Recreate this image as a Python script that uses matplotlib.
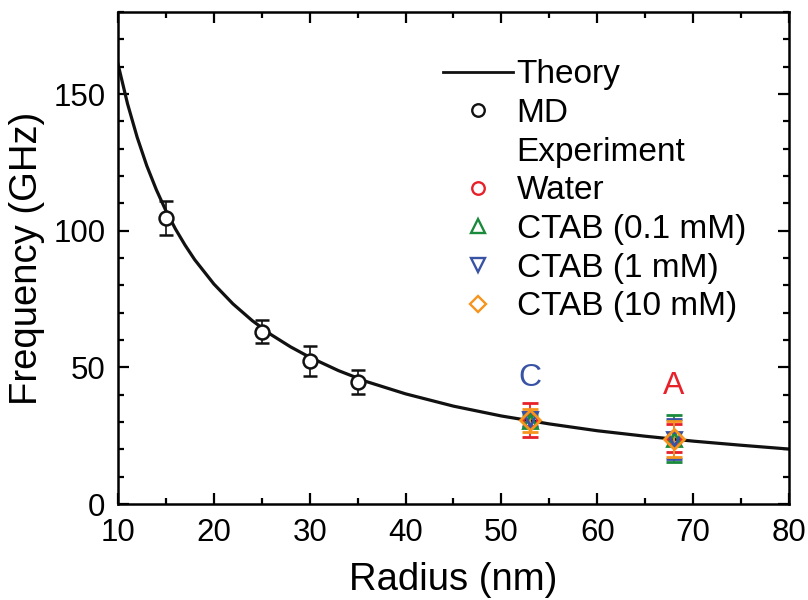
import matplotlib
matplotlib.use("Agg")
import matplotlib.pyplot as plt
from matplotlib.lines import Line2D
from matplotlib.ticker import MultipleLocator

plt.rcParams['font.family'] = ['Liberation Sans', 'DejaVu Sans']

# Theory curve
theory_r = [10, 11, 12, 13, 14, 15, 16, 17, 18, 20, 22, 24, 26, 28, 30,
            33, 36, 40, 45, 50, 55, 60, 65, 70, 75, 80]
theory_f = [161, 146.4, 134.2, 123.8, 115, 107.3, 100.6, 94.7, 89.4, 80.5,
            73.2, 67.1, 61.9, 57.5, 53.7, 48.8, 44.7, 40.3, 35.8, 32.2,
            29.3, 26.8, 24.8, 23.0, 21.5, 20.1]

# MD simulation
md_r = [15, 25, 30, 35]
md_f = [104.7, 63.1, 52.2, 44.6]
md_err = [6.3, 4.2, 5.5, 4.4]

# Experiment (C: r = 53 nm, A: r = 68 nm)
exp_r = [53, 68]
water_f = [30.8, 24.0]
water_err = [6.2, 5.1]
ctab01_f = [30.4, 23.9]
ctab01_err = [2.2, 8.6]
ctab1_f = [31.0, 23.8]
ctab1_err = [2.6, 7.3]
ctab10_f = [30.7, 23.8]
ctab10_err = [4.2, 6.5]

red = '#e8202a'
green = '#1a8a3c'
blue = '#3953a4'
orange = '#f7941d'

fig = plt.figure(figsize=(8.08, 6.0), dpi=100)
ax = fig.add_axes([0.146, 0.16, 0.8305, 0.82])

ax.plot(theory_r, theory_f, color='#111111', lw=2.3, zorder=2)

ax.errorbar(md_r, md_f, yerr=md_err, fmt='o', ms=10, mfc='white', mec='#111111',
            mew=1.8, ecolor='#111111', elinewidth=1.2, capsize=5, capthick=1.2, zorder=3)

exp_sets = [
    (water_f, water_err, 'o', red, 10),
    (ctab01_f, ctab01_err, '^', green, 10),
    (ctab1_f, ctab1_err, 'v', blue, 10),
    (ctab10_f, ctab10_err, 'D', orange, 10.5),
]
for f, err, m, c, size in exp_sets:
    ax.errorbar(exp_r, f, yerr=err, fmt=m, ms=size, mfc='none', mec=c, mew=2.0,
                ecolor=c, elinewidth=1.3, capsize=5.5, capthick=1.6, zorder=4)

ax.text(53, 46, 'C', color=blue, fontsize=23, ha='center', va='center')
ax.text(68, 43, 'A', color=red, fontsize=23, ha='center', va='center')

ax.set_xlim(10, 80)
ax.set_ylim(0, 180)
ax.xaxis.set_major_locator(MultipleLocator(10))
ax.xaxis.set_minor_locator(MultipleLocator(5))
ax.yaxis.set_major_locator(MultipleLocator(50))
ax.yaxis.set_minor_locator(MultipleLocator(10))
ax.tick_params(which='both', direction='in', top=True, right=True, width=1.6)
ax.tick_params(which='major', length=8, labelsize=22.5)
ax.tick_params(axis='x', which='major', pad=10)
ax.tick_params(axis='y', which='major', pad=9)
ax.tick_params(which='minor', length=4)
for s in ax.spines.values():
    s.set_linewidth(1.8)

ax.set_xlabel('Radius (nm)', fontsize=27.5, labelpad=10)
ax.set_ylabel('Frequency (GHz)', fontsize=27.5, labelpad=6)

handles = [
    Line2D([], [], color='#111111', lw=2.0),
    Line2D([], [], ls='none', marker='o', ms=9, mfc='none', mec='#111111', mew=1.7),
    Line2D([], [], ls='none'),
    Line2D([], [], ls='none', marker='o', ms=9, mfc='none', mec=red, mew=1.7),
    Line2D([], [], ls='none', marker='^', ms=9.5, mfc='none', mec=green, mew=1.7),
    Line2D([], [], ls='none', marker='v', ms=9.5, mfc='none', mec=blue, mew=1.7),
    Line2D([], [], ls='none', marker='D', ms=8.5, mfc='none', mec=orange, mew=1.7),
]
labels = ['Theory', 'MD', 'Experiment', 'Water', 'CTAB (0.1 mM)',
          'CTAB (1 mM)', 'CTAB (10 mM)']
ax.legend(handles, labels, loc='upper left', bbox_to_anchor=(0.46, 0.938),
          frameon=False, fontsize=24, handlelength=2.1, handletextpad=0.1,
          labelspacing=0.23, borderpad=0)

fig.savefig('out.png', dpi=100)
